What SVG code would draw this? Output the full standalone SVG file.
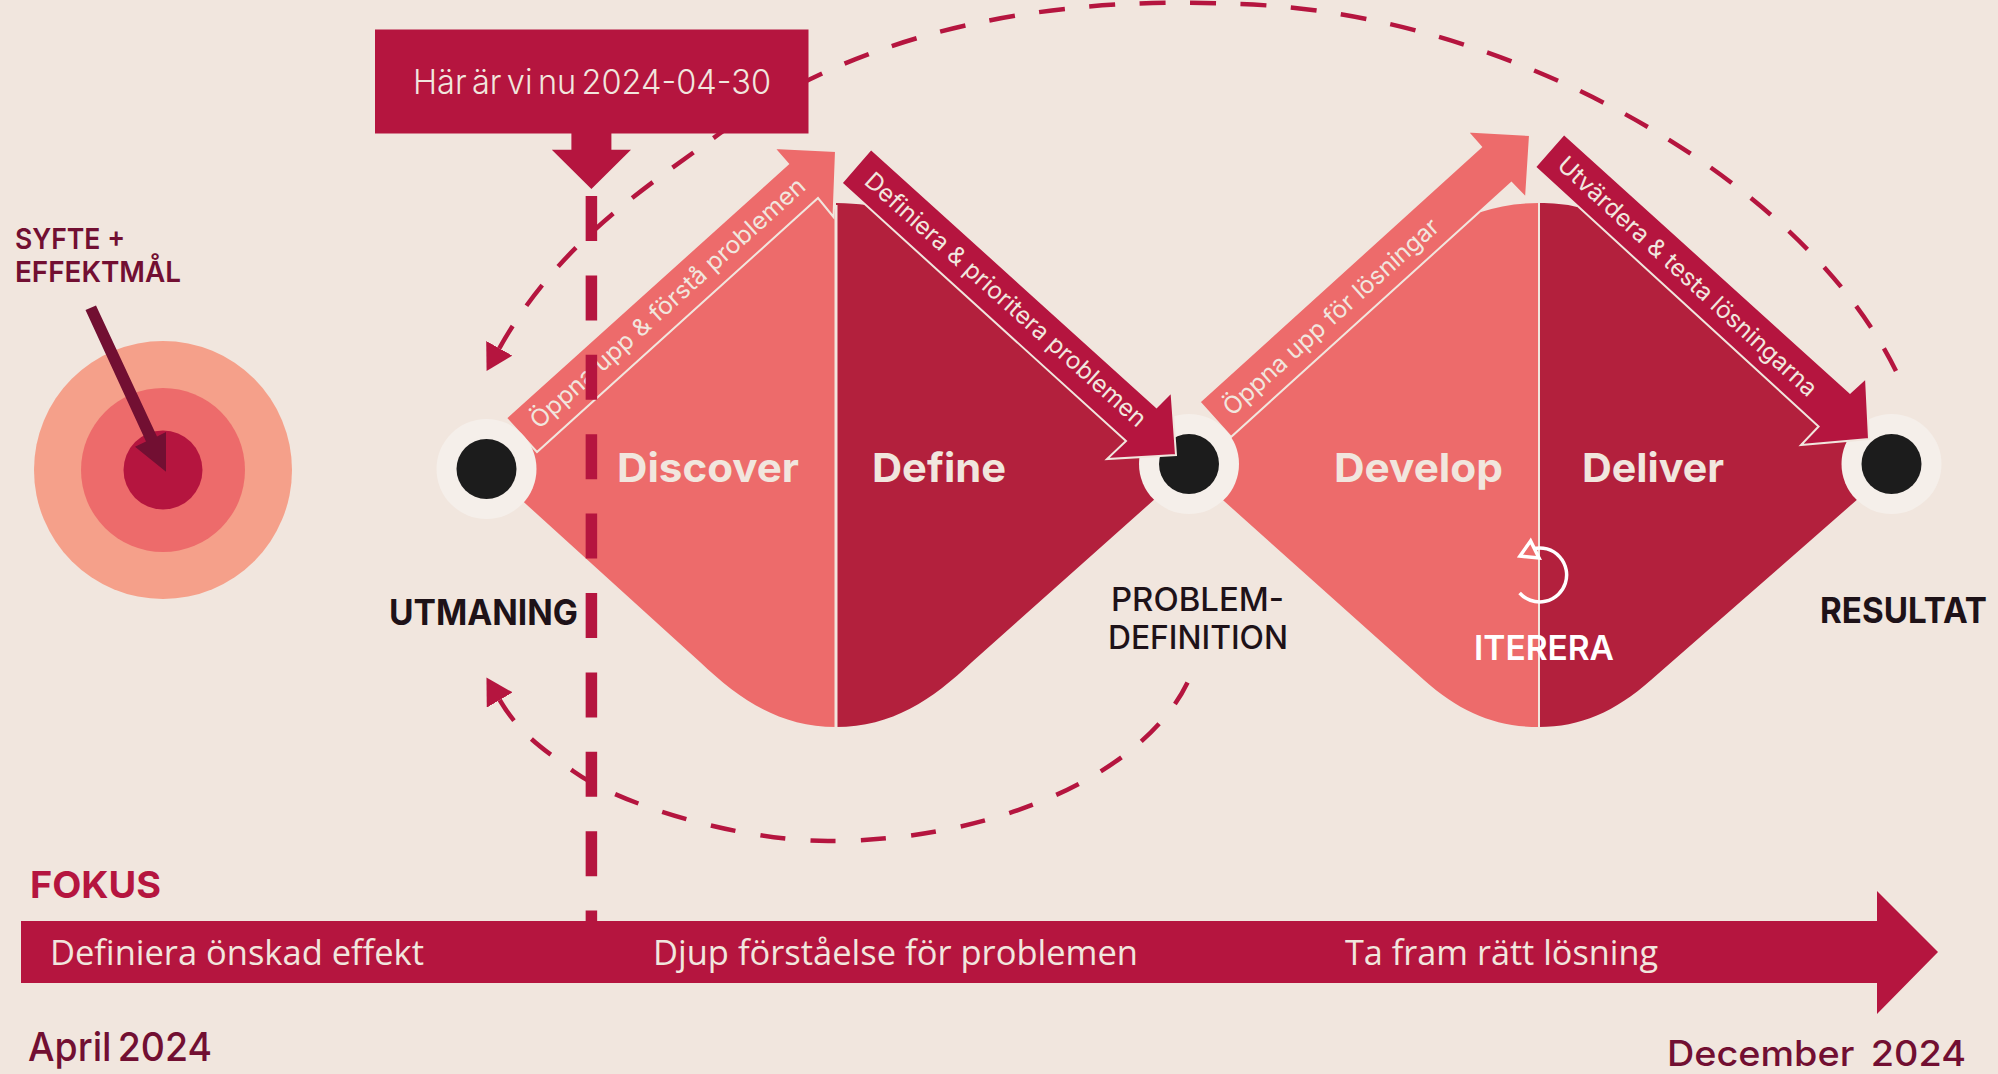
<svg xmlns="http://www.w3.org/2000/svg" width="1998" height="1074" viewBox="0 0 1998 1074">
<style>
text{font-family:"Inter","Liberation Sans",sans-serif}
.cream{fill:#F1E6DE}
.head{font-size:40px;font-weight:700;fill:#F1E6DE}
.strip{font-size:24px;font-weight:400;fill:#F1E6DE}
.lab{font-size:32px;fill:#1E1218;font-weight:500}
.lab2{font-size:35px;fill:#1E1218;font-weight:700}
.plum{fill:#720F32;font-weight:500}
.plumb{fill:#720F32;font-weight:600}
.bar{font-family:"Open Sans","Noto Sans",sans-serif;font-size:35px;fill:#F1E6DE}
.coral{fill:#ED6B6B}.dark{fill:#B3203D}.crim{fill:#B5153F}
.arr{stroke:#F1E6DE;stroke-width:2;stroke-linejoin:miter}
.sep{stroke:#F1E6DE;stroke-width:3}
.dash{fill:none;stroke:#B5153F;stroke-width:4.500}
.ring{fill:#F5EFEA}.dot{fill:#1C1C1C}
</style>
<defs>
<marker id="tri" markerUnits="userSpaceOnUse" markerWidth="30" markerHeight="34" refX="0" refY="15" orient="auto-start-reverse"><path d="M0,0L26,15L0,30Z" fill="#B5153F"/></marker>
</defs>
<rect width="1998" height="1074" fill="#F1E6DE"/>
<g id="target">
<circle cx="163" cy="470" r="129" fill="#F5A08A"/>
<circle cx="163" cy="470" r="82" fill="#ED6B6B"/>
<circle cx="163" cy="470" r="39.500" fill="#B5153F"/>
<path d="M85.500,310L96,305.500L157,436.500L166,432L166,471.700L135,446.700L146,441.500Z" fill="#720F32"/>
<text x="15" y="249" class="plumb" font-size="29" textLength="110" lengthAdjust="spacingAndGlyphs">SYFTE +</text>
<text x="15" y="282" class="plumb" font-size="29" textLength="166" lengthAdjust="spacingAndGlyphs">EFFEKTMÅL</text>
</g>
<g id="discover-define">
<path class="coral" d="M836,210L815,195L520,450L505,485L700,662C740,700 780,727 836,727Z"/>
<path class="dark" d="M836,203C848,203 858,204 866,205L870,200L1120,430L1165,470L1165,490L972,662C932,700 892,727 836,727Z"/>
<path class="sep" d="M836,205V727"/>
<text x="617" y="482" class="head" textLength="182" lengthAdjust="spacingAndGlyphs">Discover</text>
<text x="872" y="482" class="head" textLength="134" lengthAdjust="spacingAndGlyphs">Define</text>
</g>
<g id="develop-deliver">
<path class="coral" d="M1539,203C1518,203 1498,206 1481,212L1475,205L1240,420L1215,470L1205,484L1424,680C1460,712 1495,727 1539,727Z"/>
<path class="dark" d="M1539,203C1552,203 1566,204 1577,207L1580,203L1815,418L1870,460L1875,484L1651,680C1615,712 1580,727 1539,727Z"/>
<path class="sep" style="stroke-width:2" d="M1539,203V727"/>
<text x="1334" y="482" class="head" textLength="169" lengthAdjust="spacingAndGlyphs">Develop</text>
<text x="1582" y="482" class="head" textLength="142" lengthAdjust="spacingAndGlyphs">Deliver</text>
<path d="M1519.600,593A27,27 0 1 0 1534,548.500" fill="none" stroke="#fff" stroke-width="3.500"/>
<path d="M1530.600,541L1520,556L1539,558Z" fill="none" stroke="#fff" stroke-width="3.500"/>
<text x="1474" y="660" font-size="34" font-weight="600" fill="#fff" textLength="140" lengthAdjust="spacingAndGlyphs">ITERERA</text>
</g>
<g id="arrow-oppna-forsta">
<path class="coral arr" d="M506,418L788,164L774,148L836,151L833.500,217L818,198L537,452Z"/>
<text class="strip" transform="translate(539,430) rotate(-42)" textLength="361" lengthAdjust="spacingAndGlyphs">Öppna upp &amp; förstå problemen</text>
</g>
<g id="arrow-oppna-losningar">
<path class="coral arr" d="M1199.500,402L1481,147L1467.500,131.600L1530,135L1526,198L1511.400,183L1231,437Z"/>
<text class="strip" transform="translate(1232,417) rotate(-42)" textLength="281" lengthAdjust="spacingAndGlyphs">Öppna upp för lösningar</text>
</g>
<g id="node-utmaning">
<circle cx="486.500" cy="469" r="50" class="ring"/>
<circle cx="486.500" cy="469" r="30" class="dot"/>
<text x="389" y="625" class="lab2" textLength="189" lengthAdjust="spacingAndGlyphs">UTMANING</text>
</g>
<g id="node-problemdefinition">
<circle cx="1189" cy="464" r="50" class="ring"/>
<circle cx="1189" cy="464" r="30" class="dot"/>
<text x="1111" y="611" class="lab" textLength="173" lengthAdjust="spacingAndGlyphs">PROBLEM-</text>
<text x="1108" y="649" class="lab" textLength="180" lengthAdjust="spacingAndGlyphs">DEFINITION</text>
</g>
<g id="node-resultat">
<circle cx="1891.500" cy="464" r="50" class="ring"/>
<circle cx="1891.500" cy="464" r="30" class="dot"/>
<text x="1820" y="623" class="lab2" textLength="167" lengthAdjust="spacingAndGlyphs">RESULTAT</text>
</g>
<g id="arrow-definiera">
<path class="crim arr" d="M871,149L1156.500,407L1171.500,392L1176,455L1107,459L1126,441L841.500,183Z"/>
<text class="strip" transform="translate(863,183) rotate(41.800)" textLength="368" lengthAdjust="spacingAndGlyphs">Definiera &amp; prioritera problemen</text>
</g>
<g id="arrow-utvardera">
<path class="crim arr" d="M1564,134L1850,392.700L1866,378L1869,439L1801,445L1818.600,426.500L1535,167Z"/>
<text class="strip" transform="translate(1556,167) rotate(42.500)" textLength="342" lengthAdjust="spacingAndGlyphs">Utvärdera &amp; testa lösningarna</text>
</g>
<g id="connectors">
<path class="dash" stroke-dasharray="26 24.450" marker-start="url(#tri)" d="M499.300,348.300C560,240 650,185 719,134C860,30 1050,-5 1236,4C1500,10 1800,175 1896,371"/>
<path class="dash" stroke-dasharray="25 25.400" marker-start="url(#tri)" d="M499.700,700C521,736 545,750 573,771C620,805 740,841 828,841C1000,841 1150,770 1190,677"/>
<path d="M591.400,196V921" fill="none" stroke="#B5153F" stroke-width="11.500" stroke-dasharray="45 34.400"/>
</g>
<g id="now-marker">
<path class="crim" d="M375,29.500H808.500V133.500H611.400V149.700H631L591.400,189L551.800,149.700H571.400V133.500H375Z"/>
<text x="413" y="94" font-size="34" font-weight="300" word-spacing="-4" class="cream" textLength="358" lengthAdjust="spacingAndGlyphs">Här är vi nu 2024-04-30</text>
</g>
<g id="timeline">
<text x="30" y="898" font-size="37" font-weight="700" fill="#B5153F" textLength="131" lengthAdjust="spacingAndGlyphs">FOKUS</text>
<path class="crim" d="M21,921H1877V891L1938,952L1877,1014V983H21Z"/>
<text x="50" y="965" class="bar" textLength="374" lengthAdjust="spacingAndGlyphs">Definiera önskad effekt</text>
<text x="653" y="965" class="bar" textLength="485" lengthAdjust="spacingAndGlyphs">Djup förståelse för problemen</text>
<text x="1345" y="965" class="bar" textLength="313" lengthAdjust="spacingAndGlyphs">Ta fram rätt lösning</text>
<text x="28" y="1061" font-size="40" word-spacing="-4" class="plum" textLength="184" lengthAdjust="spacingAndGlyphs">April 2024</text>
<text x="1667" y="1065.500" font-size="35" word-spacing="6" class="plum" textLength="299" lengthAdjust="spacingAndGlyphs">December 2024</text>
</g>
</svg>
